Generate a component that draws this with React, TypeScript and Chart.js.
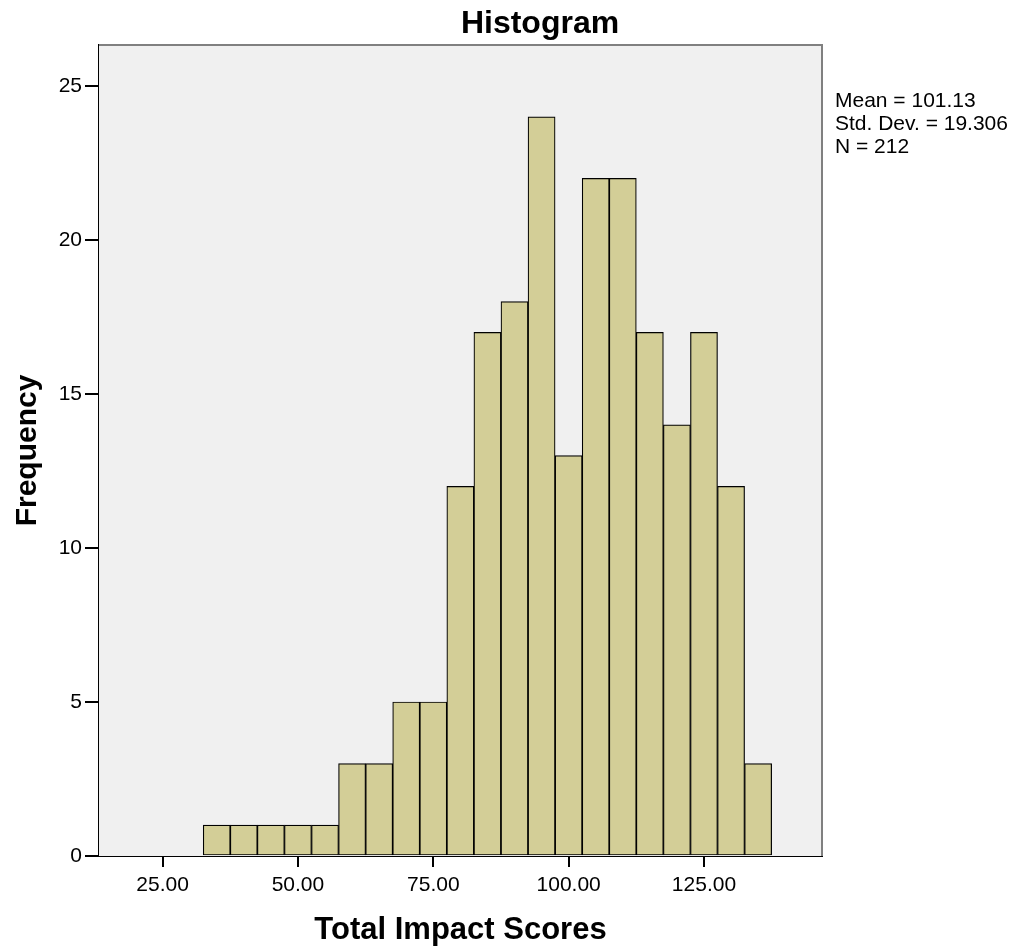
import React, { useEffect, useRef } from "react";
import { Chart, registerables } from "chart.js";

Chart.register(...registerables);

const binCenters = [35, 40, 45, 50, 55, 60, 65, 70, 75, 80, 85, 90, 95, 100, 105, 110, 115, 120, 125, 130, 135];
const frequencies = [1, 1, 1, 1, 1, 3, 3, 5, 5, 12, 17, 18, 24, 13, 22, 22, 17, 14, 17, 12, 3];
const xTicks = [25, 50, 75, 100, 125];
const yTicks = [0, 5, 10, 15, 20, 25];
const statsLines = ["Mean = 101.13", "Std. Dev. = 19.306", "N = 212"];
const titleText = "Histogram";
const xTitle = "Total Impact Scores";
const yTitle = "Frequency";

const FONT = "'Liberation Sans', Arial, sans-serif";

export default function App() {
  const ref = useRef<HTMLCanvasElement | null>(null);

  useEffect(() => {
    if (!ref.current) return;
    const decor = {
      id: "decor",
      beforeDatasetsDraw(chart: any) {
        const { ctx, chartArea: a } = chart;
        ctx.save();
        ctx.fillStyle = "#F0F0F0";
        ctx.fillRect(a.left, a.top, a.right - a.left, a.bottom - a.top);
        ctx.restore();
      },
      afterDraw(chart: any) {
        const { ctx, chartArea: a } = chart;
        ctx.save();
        ctx.strokeStyle = "#808080";
        ctx.lineWidth = 2;
        ctx.beginPath();
        ctx.moveTo(a.left, a.top);
        ctx.lineTo(a.right, a.top);
        ctx.lineTo(a.right, a.bottom);
        ctx.stroke();
        ctx.fillStyle = "#000";
        ctx.font = `bold 32px ${FONT}`;
        ctx.textAlign = "center";
        ctx.textBaseline = "alphabetic";
        ctx.fillText(titleText, 540, 33);
        ctx.font = `21px ${FONT}`;
        ctx.textAlign = "left";
        statsLines.forEach((s, i) => ctx.fillText(s, 835, 107 + i * 23));
        ctx.restore();
      },
    };
    const chart = new Chart(ref.current, {
      type: "bar",
      data: {
        datasets: [
          {
            data: binCenters.map((x, i) => ({ x, y: frequencies[i] })),
            backgroundColor: "#D3CE97",
            borderColor: "#000",
            borderWidth: 1.2,
            borderSkipped: false,
            barPercentage: 1,
            categoryPercentage: 1,
          },
        ],
      },
      options: {
        responsive: false,
        animation: false,
        layout: { padding: { top: 45, right: 200, left: 0, bottom: 0 } },
        plugins: { legend: { display: false }, tooltip: { enabled: false }, title: { display: false } },
        scales: {
          x: {
            type: "linear",
            offset: false,
            min: 13.25,
            max: 146.8,
            afterFit: (s: any) => { s.height = 93; },
            afterBuildTicks: (s: any) => { s.ticks = xTicks.map((v) => ({ value: v })); },
            grid: { display: true, offset: false, drawOnChartArea: false, drawTicks: true, tickLength: 11, color: "#000", lineWidth: 2 },
            border: { display: true, color: "#000", width: 2 },
            ticks: {
              color: "#000",
              font: { family: FONT, size: 21 },
              padding: 6,
              maxRotation: 0,
              callback: (v: any) => Number(v).toFixed(2),
            },
            title: {
              display: true,
              text: xTitle,
              color: "#000",
              font: { family: FONT, size: 31, weight: "bold", lineHeight: 1.2 },
              padding: { top: 0, bottom: 0 },
            },
          },
          y: {
            type: "linear",
            min: 0,
            max: 26.33,
            afterFit: (s: any) => { s.width = 99; },
            afterBuildTicks: (s: any) => { s.ticks = yTicks.map((v) => ({ value: v })); },
            grid: { display: true, drawOnChartArea: false, drawTicks: true, tickLength: 14, color: "#000", lineWidth: 2 },
            border: { display: true, color: "#000", width: 2 },
            ticks: {
              color: "#000",
              font: { family: FONT, size: 21 },
              padding: 3,
            },
            title: {
              display: true,
              text: yTitle,
              color: "#000",
              font: { family: FONT, size: 30, weight: "bold", lineHeight: 1.2 },
              padding: { top: 10, bottom: 0 },
            },
          },
        },
      },
      plugins: [decor],
    });
    return () => chart.destroy();
  }, []);

  return (
    <div style={{ position: "absolute", left: 0, top: 0, width: 1022, height: 949, background: "#fff" }}>
      <canvas ref={ref} width={1022} height={949} style={{ display: "block" }} />
    </div>
  );
}
